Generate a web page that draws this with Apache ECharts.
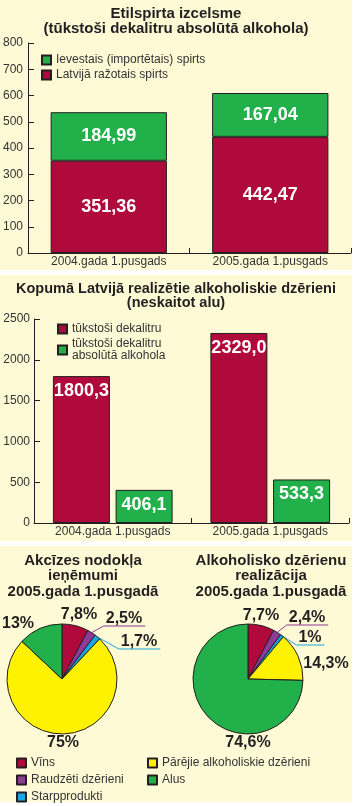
<!DOCTYPE html>
<html lang="lv">
<head>
  <meta charset="UTF-8">
  <title>Alkohola tirgus 2005</title>
  <script src="https://cdn.jsdelivr.net/npm/echarts@6/dist/echarts.min.js"></script>
  <style>
    body { margin: 0; background: #fff; }
    /* cream panels behind the transparent chart canvas */
    .panel { position: absolute; left: 0; width: 352px; background: #fffad6; }
    #chart { position: absolute; left: 0; top: 0; width: 355px; height: 806px; }
  </style>
</head>
<body>
  <div class="panel" style="top:0;height:270px"></div>
  <div class="panel" style="top:275px;height:266px"></div>
  <div class="panel" style="top:546px;height:256px"></div>
  <div id="chart"></div>

  <script>
    // ---- data ----
    const periods = ['2004.gada 1.pusgads', '2005.gada 1.pusgads'];
    const localSpirit = [351.36, 442.47];      // Latvijā ražotais spirts
    const importedSpirit = [184.99, 167.04];   // Ievestais (importētais) spirts
    const totalDal = [1800.3, 2329.0];         // tūkstoši dekalitru
    const totalAbsAlc = [406.1, 533.3];        // tūkstoši dekalitru absolūtā alkohola
    const pieNames = ['Vīns', 'Raudzēti dzērieni', 'Starpprodukti', 'Pārējie alkoholiskie dzērieni', 'Alus'];
    const exciseShare = [7.8, 2.5, 1.7, 75, 13];
    const salesShare = [7.7, 2.4, 1, 14.3, 74.6];

    const RED = '#b0093b', GREEN = '#22b04b', PURPLE = '#8d3b97', BLUE = '#1aa7e1', YELLOW = '#fff200';
    const pieColors = [RED, PURPLE, BLUE, YELLOW, GREEN];
    const INK = '#231f20';
    const FONT = 'Liberation Sans';

    const comma = (v, d) => v.toFixed(d).replace('.', ',');

    // label offsets (text centre relative to pie centre)
    const leftPieLabelPos = [[17, -64], [62, -60], [77, -37], [1, 64], [-44, -55]];
    const rightPieLabelPos = [[13, -63], [59, -61], [62, -41], [78, -15], [0, 64]];
    const leaderNames = ['Raudzēti dzērieni', 'Starpprodukti'];

    function placeLabels(cx, cy, offsets) {
      return function (p) {
        const o = offsets[p.dataIndex];
        const x = cx + o[0], y = cy + o[1];
        const w = p.labelRect.width;
        const res = { x: x, y: y, align: 'center', verticalAlign: 'middle' };
        if (p.labelLinePoints) {
          const ly = y + 7;
          res.labelLinePoints = [p.labelLinePoints[0], [x - w / 2 - 2, ly], [x + w / 2 + 3, ly]];
        }
        return res;
      };
    }

    function pieData(values) {
      return values.map((v, i) => ({
        name: pieNames[i],
        value: v,
        itemStyle: { color: pieColors[i] },
        labelLine: { show: leaderNames.includes(pieNames[i]) }
      }));
    }

    function pieSeries(name, values, cx, cy, offsets) {
      return {
        name: name,
        type: 'pie',
        center: [cx, cy],
        radius: 55,
        startAngle: 90,
        clockwise: true,
        avoidLabelOverlap: false,
        minShowLabelAngle: 0,
        data: pieData(values),
        itemStyle: { borderColor: INK, borderWidth: 1 },
        label: {
          position: 'outside',
          color: INK,
          fontSize: 16,
          fontWeight: 'bold',
          formatter: p => String(p.value).replace('.', ',') + '%'
        },
        labelLine: { show: false, length: 6, length2: 6, lineStyle: { width: 1 } },
        labelLayout: placeLabels(cx, cy, offsets),
        emphasis: { disabled: true }
      };
    }

    const axisText = { color: '#333', fontSize: 12, fontFamily: FONT };
    const axisLine = { show: true, lineStyle: { color: INK, width: 1 } };
    const tick = { show: true, inside: true, length: 5, lineStyle: { color: INK } };
    const barLabel = { show: true, color: '#fff', fontSize: 18, fontWeight: 'bold', fontFamily: FONT };
    const titleText = { color: INK, fontSize: 15, fontWeight: 'bold', fontFamily: FONT };
    const legendBase = {
      orient: 'vertical', padding: 0, icon: 'rect',
      itemWidth: 9, itemHeight: 9
    };

    const option = {
      animation: false,
      textStyle: { fontFamily: FONT },
      title: [
        {
          text: 'Etilspirta izcelsme\n(tūkstoši dekalitru absolūtā alkohola)',
          left: 176, top: 6, textAlign: 'center', padding: 0,
          textStyle: Object.assign({}, titleText, { lineHeight: 15 })
        },
        {
          text: 'Kopumā Latvijā realizētie alkoholiskie dzērieni\n(neskaitot alu)',
          left: 176, top: 282, textAlign: 'center', padding: 0,
          textStyle: Object.assign({}, titleText, { fontSize: 14.5, lineHeight: 14 })
        },
        {
          text: 'Akcīzes nodokļa\nieņēmumi\n2005.gada 1.pusgadā',
          left: 83, top: 553, textAlign: 'center', padding: 0,
          textStyle: Object.assign({}, titleText, { lineHeight: 15.5 })
        },
        {
          text: 'Alkoholisko dzērienu\nrealizācija\n2005.gada 1.pusgadā',
          left: 271, top: 553, textAlign: 'center', padding: 0,
          textStyle: Object.assign({}, titleText, { lineHeight: 15.5 })
        }
      ],
      legend: [
        Object.assign({}, legendBase, {
          data: ['Ievestais (importētais) spirts', 'Latvijā ražotais spirts'],
          left: 41, top: 53, itemGap: 1,
          textStyle: { color: '#333', fontSize: 12, lineHeight: 14 }
        }),
        Object.assign({}, legendBase, {
          data: ['tūkstoši dekalitru', 'tūkstoši dekalitru absolūtā alkohola'],
          left: 57, top: 323, itemGap: 3,
          formatter: n => n.replace('dekalitru absolūtā', 'dekalitru\nabsolūtā'),
          textStyle: { color: '#333', fontSize: 12, lineHeight: 12 }
        }),
        Object.assign({}, legendBase, {
          data: pieNames.slice(0, 3),
          left: 16, top: 756, itemGap: 3,
          textStyle: { color: '#333', fontSize: 12, lineHeight: 14 }
        }),
        Object.assign({}, legendBase, {
          data: pieNames.slice(3),
          left: 147, top: 756, itemGap: 3,
          textStyle: { color: '#333', fontSize: 12, lineHeight: 14 }
        })
      ],
      grid: [
        { left: 27, right: 4, top: 43, bottom: 553 },
        { left: 34, right: 6, top: 319, bottom: 283 }
      ],
      xAxis: [
        {
          gridIndex: 0, type: 'category', data: periods,
          axisLine: axisLine, axisTick: tick,
          axisLabel: Object.assign({ margin: 3 }, axisText)
        },
        {
          gridIndex: 1, type: 'category', data: periods,
          axisLine: axisLine, axisTick: tick,
          axisLabel: Object.assign({ margin: 3 }, axisText)
        }
      ],
      yAxis: [
        {
          gridIndex: 0, type: 'value', min: 0, max: 800, interval: 100,
          axisLine: axisLine, axisTick: Object.assign({}, tick, { length: 6 }),
          splitLine: { show: false },
          axisLabel: Object.assign({ margin: 5, formatter: v => String(v) }, axisText)
        },
        {
          gridIndex: 1, type: 'value', min: 0, max: 2500, interval: 500,
          axisLine: axisLine, axisTick: Object.assign({}, tick, { length: 6 }),
          splitLine: { show: false },
          axisLabel: Object.assign({ margin: 4, formatter: v => String(v) }, axisText)
        }
      ],
      series: [
        {
          name: 'Latvijā ražotais spirts', type: 'bar', stack: 'spirts',
          xAxisIndex: 0, yAxisIndex: 0, data: localSpirit, barWidth: '72%',
          itemStyle: { color: RED, borderColor: INK, borderWidth: 1 },
          label: Object.assign({ position: 'inside', formatter: p => comma(p.value, 2) }, barLabel)
        },
        {
          name: 'Ievestais (importētais) spirts', type: 'bar', stack: 'spirts',
          xAxisIndex: 0, yAxisIndex: 0, data: importedSpirit, barWidth: '72%',
          itemStyle: { color: GREEN, borderColor: INK, borderWidth: 1 },
          label: Object.assign({ position: 'inside', formatter: p => comma(p.value, 2) }, barLabel)
        },
        {
          name: 'tūkstoši dekalitru', type: 'bar',
          xAxisIndex: 1, yAxisIndex: 1, data: totalDal, barWidth: 57, barGap: '10%',
          itemStyle: { color: RED, borderColor: INK, borderWidth: 1 },
          label: Object.assign({ position: 'insideTop', distance: 6, formatter: p => comma(p.value, 1) }, barLabel)
        },
        {
          name: 'tūkstoši dekalitru absolūtā alkohola', type: 'bar',
          xAxisIndex: 1, yAxisIndex: 1, data: totalAbsAlc, barWidth: 57, barGap: '10%',
          itemStyle: { color: GREEN, borderColor: INK, borderWidth: 1 },
          label: Object.assign({ position: 'insideTop', distance: 6, formatter: p => comma(p.value, 1) }, barLabel)
        },
        pieSeries('Akcīzes nodokļa ieņēmumi', exciseShare, 62, 679, leftPieLabelPos),
        pieSeries('Alkoholisko dzērienu realizācija', salesShare, 248, 679, rightPieLabelPos)
      ]
    };

    const chart = echarts.init(document.getElementById('chart'));
    chart.setOption(option);
  </script>
</body>
</html>
